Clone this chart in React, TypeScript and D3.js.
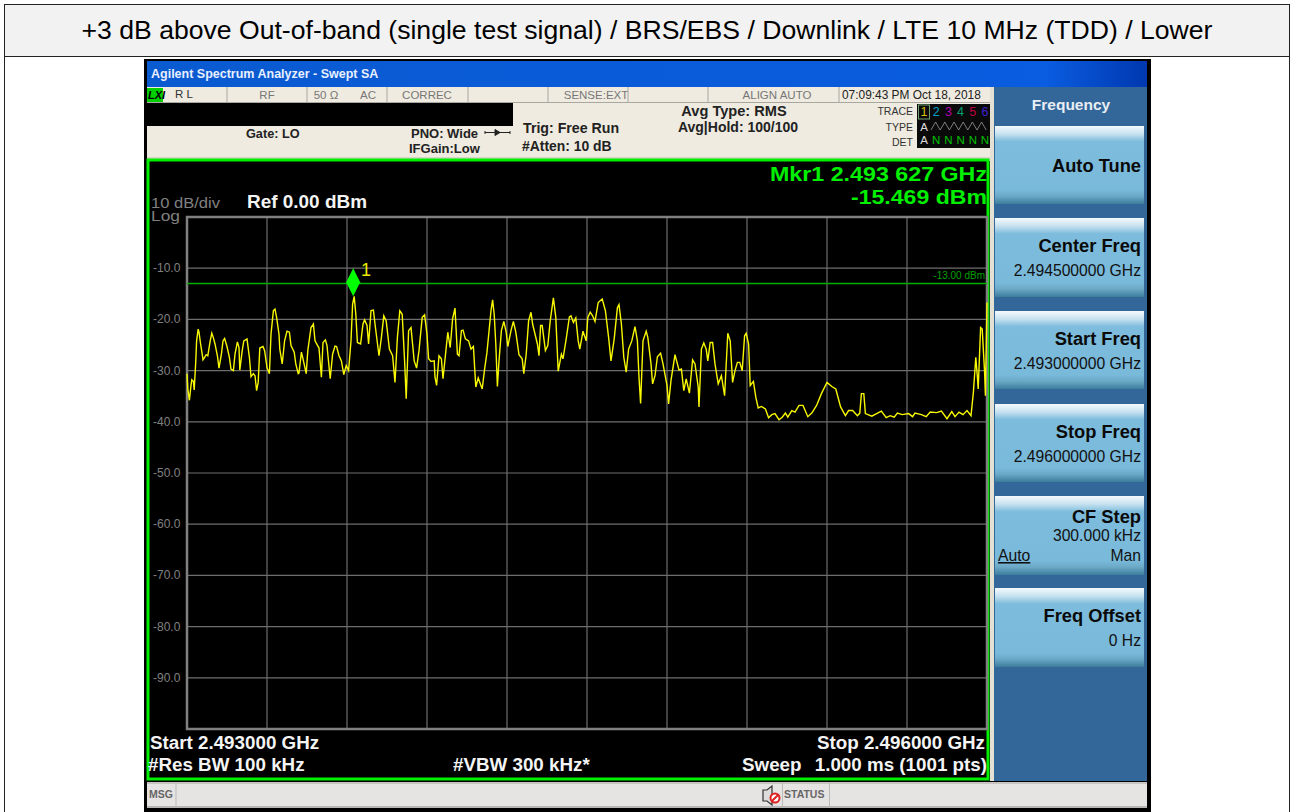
import React from "react";
import * as d3 from "d3";

const titleText = "+3 dB above Out-of-band (single test signal) / BRS/EBS / Downlink / LTE 10 MHz (TDD) / Lower";
const dbTicks = [-10, -20, -30, -40, -50, -60, -70, -80, -90];
const gridPoints = [100, 200, 300, 400, 500, 600, 700, 800, 900];
const limitDbm = -13;
const markerPoint = 209;
const markerDbm = -15.469;

// [sweep point (0-1000), dBm]
const traceSamples: [number, number][] = [
[0,-30.6],[1,-33.6],[3,-35.8],[5,-32.9],[6,-31.8],[8,-32.1],[9,-33.8],[11,-28.1],[12,-24.2],[14,-21.9],[15,-22.5],[17,-24.8],[19,-26.8],[20,-27.9],[22,-27.4],[24,-26.9],[26,-27.1],[29,-24.2],[31,-22.7],[33,-23.6],[35,-24.8],[38,-27.1],[40,-29.5],[43,-26.8],[45,-24.2],[47,-23.7],[50,-25.3],[53,-27.4],[55,-29.7],[58,-30],[60,-26.8],[63,-24.4],[65,-25.5],[66,-29.9],[69,-26.1],[71,-24.2],[75,-23.8],[78,-27.4],[80,-31.2],[83,-30.6],[85,-31],[87,-33.9],[89,-32.3],[91,-25.6],[95,-25.3],[97,-26.1],[100,-29.4],[103,-30.6],[105,-22.9],[108,-18.3],[110,-18],[112,-19.6],[115,-22.9],[116,-25.8],[119,-28.7],[122,-24.2],[125,-22.3],[128,-22.5],[130,-25.1],[134,-26.4],[136,-28.7],[139,-30.6],[140,-30.5],[143,-26.4],[145,-27.7],[149,-30.6],[151,-26.1],[155,-21.6],[158,-20.9],[160,-24.2],[165,-25.6],[168,-31.3],[170,-24.5],[173,-24],[175,-25.1],[179,-31.6],[182,-26.8],[185,-25.2],[187,-25.3],[190,-27.1],[193,-28.1],[196,-30.8],[199,-29],[202,-30],[205,-24.2],[207,-17],[209,-15.5],[211,-19],[213,-24.5],[217,-24.8],[220,-20.9],[222,-20.1],[225,-21.2],[227,-24.8],[230,-18.3],[233,-18.2],[235,-20.9],[240,-27.1],[243,-23.5],[246,-19.3],[249,-20.3],[253,-25.8],[257,-27.1],[260,-32.3],[263,-23.5],[266,-18.3],[269,-19],[272,-28.1],[274,-35.5],[277,-22.2],[280,-21.6],[284,-28.1],[287,-29.5],[290,-26.1],[294,-19.6],[297,-19.1],[300,-22.9],[302,-27.7],[305,-28.2],[309,-28.1],[310,-31.3],[312,-32.9],[315,-27.1],[318,-27.7],[320,-31.6],[324,-25.5],[326,-22.5],[329,-25.5],[332,-19.9],[335,-17.8],[338,-26.8],[340,-27.1],[343,-22.2],[345,-22.1],
[348,-23.8],[352,-24.2],[355,-25.8],[358,-25.3],[361,-33.2],[364,-31.4],[369,-33.6],[372,-29.7],[375,-26.4],[380,-18.3],[382,-16.2],[384,-19],[386,-24.8],[388,-33.1],[390,-28.1],[393,-22.2],[396,-20.4],[399,-22.5],[401,-25.3],[405,-22.2],[408,-20.4],[411,-22.5],[415,-26.9],[419,-27.7],[421,-30.6],[424,-26.8],[427,-20.3],[430,-18.6],[432,-20.9],[438,-24.8],[440,-27.1],[442,-21.2],[444,-21.2],[448,-26.1],[451,-25.1],[454,-20.3],[458,-15.8],[461,-19.6],[464,-30.1],[468,-26.8],[470,-27.7],[474,-23.8],[478,-19.5],[480,-19.3],[483,-20.6],[486,-19.7],[489,-24.2],[491,-25.8],[495,-22.3],[499,-24.2],[501,-19.6],[504,-18.6],[507,-19.3],[510,-20.4],[514,-16.7],[519,-16],[523,-18.3],[527,-23.5],[530,-28.1],[534,-23.8],[538,-17.7],[540,-17.1],[543,-20.9],[546,-27.4],[549,-30.3],[552,-25.8],[556,-24.2],[560,-21.4],[563,-24.2],[565,-31.3],[567,-36.4],[570,-24.2],[574,-22.3],[576,-23.5],[580,-28.7],[582,-32.6],[585,-31],[588,-27.3],[592,-26.6],[595,-28.7],[600,-32.9],[602,-36.5],[605,-31.9],[610,-26.9],[613,-28.7],[615,-29.9],[618,-29.7],[621,-33.9],[624,-31.6],[628,-34.4],[632,-27.9],[635,-28.7],[639,-33.2],[640,-37.1],[643,-25.8],[646,-24.6],[649,-25.8],[651,-28.1],[654,-24.5],[657,-24.5],[660,-28.7],[664,-32.6],[668,-31],[672,-34.9],
[676,-22.7],[679,-24.2],[682,-32.3],[685,-30],[688,-28.4],[691,-28.4],[694,-30],[697,-23.2],[699,-22.7],[702,-24.8],[704,-32.9],[708,-32.1],[711,-35.2],[714,-37.3],[718,-37],[723,-37.5],[727,-39.2],[731,-38.6],[735,-38.4],[740,-39.6],[744,-39.1],[748,-38.3],[751,-39.1],[756,-37.8],[760,-38.1],[765,-36.8],[770,-36.8],[776,-39],[781,-38.3],[787,-36.8],[793,-34.5],[800,-32.3],[806,-33.1],[811,-33.6],[817,-37.1],[823,-38.8],[827,-37.8],[832,-37.8],[838,-38.8],[841,-38.3],[843,-34.5],[846,-34.5],[848,-38.4],[856,-38.9],[862,-38.4],[868,-37.9],[874,-39.2],[879,-38.8],[884,-39.1],[888,-38.3],[894,-38.6],[902,-38.4],[907,-39],[910,-38.3],[918,-38.6],[924,-39],[929,-38.1],[937,-38.2],[943,-37.9],[950,-39.4],[956,-38],[960,-39],[965,-38.1],[970,-38.6],[975,-37.8],[980,-38.8],[983,-34.2],[986,-27.4],[988,-31.3],[989,-33.6],[992,-21.6],[994,-21.9],[997,-30.3],[998,-34.9],[1000,-16.7],
];

const statusCellEdges = [227, 307, 387, 468, 548, 628, 708, 839];
const softKeys = [
  { top: 126, bottom: 204, title: "Auto Tune", lines: [] as string[] },
  { top: 218, bottom: 297, title: "Center Freq", lines: ["2.494500000 GHz"] },
  { top: 311, bottom: 389, title: "Start Freq", lines: ["2.493000000 GHz"] },
  { top: 404, bottom: 482, title: "Stop Freq", lines: ["2.496000000 GHz"] },
  { top: 496, bottom: 575, title: "CF Step", lines: ["300.000 kHz"] },
  { top: 588, bottom: 667, title: "Freq Offset", lines: ["0 Hz"] },
];
const traceDigits = ["1", "2", "3", "4", "5", "6"];
const traceDigitColors = ["#d8c000", "#00a0c8", "#b000b0", "#00a070", "#c00040", "#4020d0"];

const SANS = "'Liberation Sans', Arial, sans-serif";
const GREEN = "#00f000";

export default function App() {
  const x = d3.scaleLinear().domain([0, 1000]).range([187, 987]);
  const y = d3.scaleLinear().domain([0, -100]).range([217, 729]);
  const line = d3.line<[number, number]>().x((d) => x(d[0])).y((d) => y(d[1]));
  const mx = x(markerPoint) - 1;
  const my = y(markerDbm);
  const wave = d3.range(0, 13).map((i) => `${i === 0 ? "M" : "L"}${931 + i * 4.6},${i % 2 ? 122 : 130}`).join("");

  const T = (p: any) => <text fontFamily={SANS} {...p} />;

  return (
    <svg width={1290} height={812} style={{ position: "absolute", left: 0, top: 0, background: "#fff" }}>
      <defs>
        <linearGradient id="key" x1="0" x2="0" y1="0" y2="1">
          <stop offset="0" stopColor="#f4f9fc" />
          <stop offset="0.1" stopColor="#c8e2f0" />
          <stop offset="0.2" stopColor="#7dbcdc" />
          <stop offset="0.82" stopColor="#79b9da" />
          <stop offset="0.9" stopColor="#6ba9c6" />
          <stop offset="1" stopColor="#3c7d9c" />
        </linearGradient>
        <linearGradient id="titlebar" x1="0" x2="1" y1="0" y2="0">
          <stop offset="0" stopColor="#0a5ad0" />
          <stop offset="0.9" stopColor="#0a5ce0" />
          <stop offset="1" stopColor="#0038b0" />
        </linearGradient>
      </defs>

      <rect x={4.5} y={4.5} width={1285} height={52} fill="#f2f2f2" stroke="#222" />
      <line x1={4.5} x2={4.5} y1={56} y2={812} stroke="#222" />
      <line x1={1289.5} x2={1289.5} y1={56} y2={812} stroke="#222" />
      <T x={647} y={39} textAnchor="middle" fontSize={26.6} fill="#000">{titleText}</T>

      <rect x={144} y={59} width={1007} height={753} fill="#000" />
      <rect x={147} y={61} width={1000} height={26} fill="url(#titlebar)" />
      <T x={151} y={78} fontSize={12.5} fontWeight={700} fill="#e8f0ff">Agilent Spectrum Analyzer - Swept SA</T>

      <rect x={147} y={87} width={846} height={16} fill="#efebe0" />
      <rect x={513} y={103} width={480} height={54} fill="#efebe0" />
      <rect x={147} y={126} width={366} height={31} fill="#efebe0" />
      <rect x={147} y={157} width={846} height={4} fill="#d8d4c8" />
      <rect x={147} y={88} width={16} height={14} fill="#00d000" />
      <T x={148} y={99} fontSize={11} fontWeight={700} fontStyle="italic" fill="#000">LXI</T>
      <T x={175} y={98} fontSize={11.5} fill="#333">R L</T>
      <T x={267} y={99} fontSize={11.5} fill="#777" textAnchor="middle">RF</T>
      <T x={326} y={99} fontSize={11.5} fill="#777" textAnchor="middle">50 Ω</T>
      <T x={368} y={99} fontSize={11.5} fill="#777" textAnchor="middle">AC</T>
      <T x={427} y={99} fontSize={11.5} fill="#777" textAnchor="middle">CORREC</T>
      <T x={596} y={99} fontSize={11.5} fill="#777" textAnchor="middle">SENSE:EXT</T>
      <T x={777} y={99} fontSize={11.5} fill="#777" textAnchor="middle">ALIGN AUTO</T>
      <T x={842} y={99} fontSize={11.9} fill="#222">07:09:43 PM Oct 18, 2018</T>
      {statusCellEdges.map((e) => <line key={e} x1={e} x2={e} y1={87} y2={102} stroke="#a8a8a0" />)}
      <line x1={147} x2={993} y1={102.5} y2={102.5} stroke="#a8a8a0" />

      <T x={246} y={138} fontSize={12.7} fontWeight={700} fill="#222">Gate: LO</T>
      <T x={411} y={138} fontSize={13} fontWeight={700} fill="#222">PNO: Wide</T>
      <T x={409} y={153} fontSize={13} fontWeight={700} fill="#222">IFGain:Low</T>
      <path d="M485,132.5H510M495,129.5l5,3l-5,3z M485,131v3M510,131v3" stroke="#222" fill="#222" />
      <T x={523} y={133} fontSize={14.2} fontWeight={700} fill="#222">Trig: Free Run</T>
      <T x={522} y={151} fontSize={13.9} fontWeight={700} fill="#222">#Atten: 10 dB</T>
      <T x={734} y={116} textAnchor="middle" fontSize={14.6} fontWeight={700} fill="#222">Avg Type: RMS</T>
      <T x={738} y={132} textAnchor="middle" fontSize={14} fontWeight={700} fill="#222">Avg|Hold: 100/100</T>
      <T x={913} y={115} textAnchor="end" fontSize={10.5} fill="#333">TRACE</T>
      <T x={913} y={131} textAnchor="end" fontSize={10.5} fill="#333">TYPE</T>
      <T x={913} y={146} textAnchor="end" fontSize={10.5} fill="#333">DET</T>
      <rect x={917} y={104} width={73} height={44} fill="#0a0a0a" />
      <rect x={918.5} y={105} width={11} height={14} fill="none" stroke="#70a070" />
      {traceDigits.map((d, i) => (
        <g key={d}>
          <T x={924 + i * 12.2} y={116} textAnchor="middle" fontSize={12.5} fill={traceDigitColors[i]}>{d}</T>
          {i > 0 && <T x={924 + i * 12.2} y={144} textAnchor="middle" fontSize={11.5} fill="#00c000">N</T>}
        </g>
      ))}
      <T x={924} y={131} textAnchor="middle" fontSize={11.5} fill="#ddd">A</T>
      <T x={924} y={144} textAnchor="middle" fontSize={11.5} fill="#ddd">A</T>
      <path d={wave} fill="none" stroke="#999" strokeWidth={0.8} />

      <rect x={148} y={160} width={840} height={619} fill="#000" stroke={GREEN} strokeWidth={3} />
      <T x={770} y={181} fontSize={20.5} fontWeight={700} fill={GREEN} textLength={217} lengthAdjust="spacingAndGlyphs">Mkr1 2.493 627 GHz</T>
      <T x={851} y={204} fontSize={20.5} fontWeight={700} fill={GREEN} textLength={136} lengthAdjust="spacingAndGlyphs">-15.469 dBm</T>
      <T x={151} y={208} fontSize={14} fill="#808080" textLength={69} lengthAdjust="spacingAndGlyphs">10 dB/div</T>
      <T x={151} y={221} fontSize={15} fill="#808080" textLength={29} lengthAdjust="spacingAndGlyphs">Log</T>
      <T x={247} y={208} fontSize={18} fontWeight={700} fill="#f4f4f4" textLength={120} lengthAdjust="spacingAndGlyphs">Ref 0.00 dBm</T>

      {gridPoints.map((p) => <line key={p} x1={x(p)} x2={x(p)} y1={y(0)} y2={y(-100)} stroke="#6e6e6e" strokeWidth={1.2} />)}
      {dbTicks.map((d) => <line key={d} x1={x(0)} x2={x(1000)} y1={y(d)} y2={y(d)} stroke="#6e6e6e" strokeWidth={1.2} />)}
      <rect x={x(0)} y={y(0)} width={x(1000) - x(0)} height={y(-100) - y(0)} fill="none" stroke="#808080" strokeWidth={2.5} />
      {dbTicks.map((d) => (
        <T key={d} x={153} y={y(d) + 4} fontSize={12} fill="#808080">{d.toFixed(1)}</T>
      ))}

      <line x1={x(0)} x2={x(1000)} y1={y(limitDbm)} y2={y(limitDbm)} stroke="#00b000" strokeWidth={1.6} />
      <T x={985} y={279} textAnchor="end" fontSize={10} fill="#00a000">-13.00 dBm</T>
      <path d={line(traceSamples) ?? ""} fill="none" stroke="#f8f800" strokeWidth={1.4} />
      <path d={`M${mx},${my - 28}L${mx + 7},${my - 14}L${mx},${my}L${mx - 7},${my - 14}Z`} fill="#00ff00" />
      <T x={366} y={276} textAnchor="middle" fontSize={18} fill="#e8e800">1</T>

      <T x={150} y={749} fontSize={18.8} fontWeight={700} fill="#f4f4f4">Start 2.493000 GHz</T>
      <T x={148} y={771} fontSize={18.8} fontWeight={700} fill="#f4f4f4">#Res BW 100 kHz</T>
      <T x={453} y={771} fontSize={18.8} fontWeight={700} fill="#f4f4f4">#VBW 300 kHz*</T>
      <T x={985} y={749} textAnchor="end" fontSize={18.8} fontWeight={700} fill="#f4f4f4">Stop 2.496000 GHz</T>
      <T x={742} y={771} fontSize={18.8} fontWeight={700} fill="#f4f4f4">Sweep</T>
      <T x={987} y={771} textAnchor="end" fontSize={18.8} fontWeight={700} fill="#f4f4f4">1.000 ms (1001 pts)</T>

      <rect x={990} y={87} width={4} height={694} fill="#e4e0d4" />
      <rect x={994} y={87} width={153} height={694} fill="#336699" />
      <T x={1071} y={110} textAnchor="middle" fontSize={15.5} fontWeight={700} fill="#e8eef4">Frequency</T>
      {softKeys.map((k) => (
        <g key={k.title}>
          <rect x={995} y={k.top} width={149} height={k.bottom - k.top} fill="url(#key)" />
          <T x={1141} y={k.title === "CF Step" ? k.top + 27 : k.lines.length ? k.top + 34 : k.top + 46} textAnchor="end" fontSize={18.3} fontWeight={700} fill="#0a0a0a">{k.title}</T>
          {k.lines[0] && <T x={1141} y={k.top + (k.title === "CF Step" ? 45 : 58)} textAnchor="end" fontSize={15.7} fill="#111">{k.lines[0]}</T>}
        </g>
      ))}
      <T x={998} y={561} fontSize={15.7} fill="#111" textDecoration="underline">Auto</T>
      <T x={1141} y={561} textAnchor="end" fontSize={15.7} fill="#111">Man</T>

      <rect x={147} y={782} width={1000} height={26} fill="#e6e3e3" />
      <line x1={147} x2={1147} y1={783} y2={783} stroke="#aaa8a0" />
      <line x1={147} x2={1147} y1={807} y2={807} stroke="#888" />
      <line x1={176} x2={176} y1={782} y2={808} stroke="#bbb" />
      <line x1={782.5} x2={782.5} y1={782} y2={808} stroke="#bbb" />
      <line x1={829.5} x2={829.5} y1={782} y2={808} stroke="#bbb" />
      <T x={149} y={798} fontSize={10.5} fontWeight={700} fill="#666">MSG</T>
      <T x={784} y={798} fontSize={10.5} fontWeight={700} fill="#666">STATUS</T>
      <path d="M763,790h4l5,-4v19l-5,-4h-4z" fill="#ddd" stroke="#333" strokeWidth={1.2} />
      <circle cx={775} cy={798} r={4.5} fill="#fff" stroke="#e02020" strokeWidth={2} />
      <line x1={772} x2={778} y1={801} y2={795} stroke="#e02020" strokeWidth={2} />
    </svg>
  );
}
